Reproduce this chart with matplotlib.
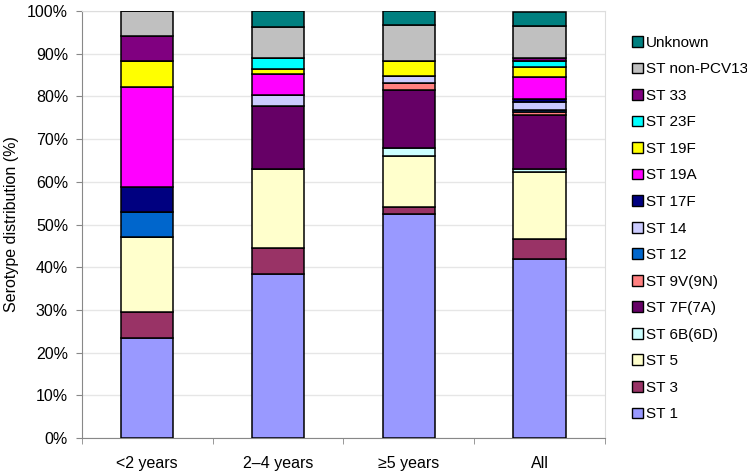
import numpy as np
import matplotlib.pyplot as plt
from matplotlib.patches import Patch

plt.rcParams['font.family'] = ['Liberation Sans', 'DejaVu Sans']

groups = ['<2 years', '2\u20134 years', '\u22655 years', 'All']

serotypes = ['ST 1', 'ST 3', 'ST 5', 'ST 6B(6D)', 'ST 7F(7A)', 'ST 9V(9N)',
             'ST 12', 'ST 14', 'ST 17F', 'ST 19A', 'ST 19F', 'ST 23F',
             'ST 33', 'ST non-PCV13', 'Unknown']

# percent per age group, same order as serotypes
pct_lt2 = [23.5, 5.9, 17.6, 0.0, 0.0, 0.0, 5.9, 0.0, 5.9, 23.5, 5.9, 0.0, 5.9, 5.9, 0.0]
pct_2to4 = [38.3, 6.2, 18.5, 0.0, 14.8, 0.0, 0.0, 2.5, 0.0, 4.9, 1.2, 2.5, 0.0, 7.4, 3.7]
pct_ge5 = [52.5, 1.7, 11.9, 1.7, 13.6, 1.7, 0.0, 1.7, 0.0, 0.0, 3.4, 0.0, 0.0, 8.5, 3.4]
pct_all = [42.0, 4.5, 15.9, 0.6, 12.7, 0.6, 0.6, 1.9, 0.6, 5.1, 2.5, 1.3, 0.6, 7.6, 3.2]

colors = ['#9999FF', '#993366', '#FFFFCC', '#CCFFFF', '#660066', '#FF8080',
          '#0066CC', '#CCCCFF', '#000080', '#FF00FF', '#FFFF00', '#00FFFF',
          '#800080', '#C0C0C0', '#008080']

data = np.array([pct_lt2, pct_2to4, pct_ge5, pct_all])

fig = plt.figure(figsize=(7.47, 4.72), dpi=100)
ax = fig.add_axes([0.1097, 0.072, 0.7, 0.9047])

x = np.arange(len(groups))
bottom = np.zeros(len(groups))
for i, name in enumerate(serotypes):
    vals = data[:, i]
    ax.bar(x, vals, width=0.4, bottom=bottom, color=colors[i],
           edgecolor='black', linewidth=1.1, zorder=3)
    bottom += vals

ax.set_xlim(-0.5, len(groups) - 0.5)
ax.set_ylim(0, 100)
ax.set_yticks(np.arange(0, 101, 10))
ax.set_yticklabels(['%d%%' % v for v in range(0, 101, 10)], fontsize=11.5)
ax.set_xticks(x)
ax.set_xticklabels(groups, fontsize=11.5)
ax.set_xticks(np.arange(-0.5, len(groups)), minor=True)
ax.tick_params(axis='x', which='major', length=0, pad=13)
ax.tick_params(axis='x', which='minor', length=4, color='#888888')
ax.tick_params(axis='y', length=4, color='#888888', pad=6)
ax.grid(axis='y', color='#E6E6E6', linewidth=1, zorder=0)
for s in ['top', 'right']:
    ax.spines[s].set_color('#DDDDDD')
for s in ['left', 'bottom']:
    ax.spines[s].set_color('#888888')
ax.set_ylabel('Serotype distribution (%)', fontsize=11.5, labelpad=6)

handles = [Patch(facecolor=colors[i], edgecolor='black', linewidth=1.0, label=serotypes[i])
           for i in range(len(serotypes) - 1, -1, -1)]
fig.legend(handles=handles, loc='upper left', bbox_to_anchor=(0.838, 0.937),
           frameon=False, fontsize=11, handlelength=0.7, handleheight=0.7,
           handletextpad=0.2, labelspacing=0.82, borderaxespad=0)

fig.savefig('out.png', dpi=100)
